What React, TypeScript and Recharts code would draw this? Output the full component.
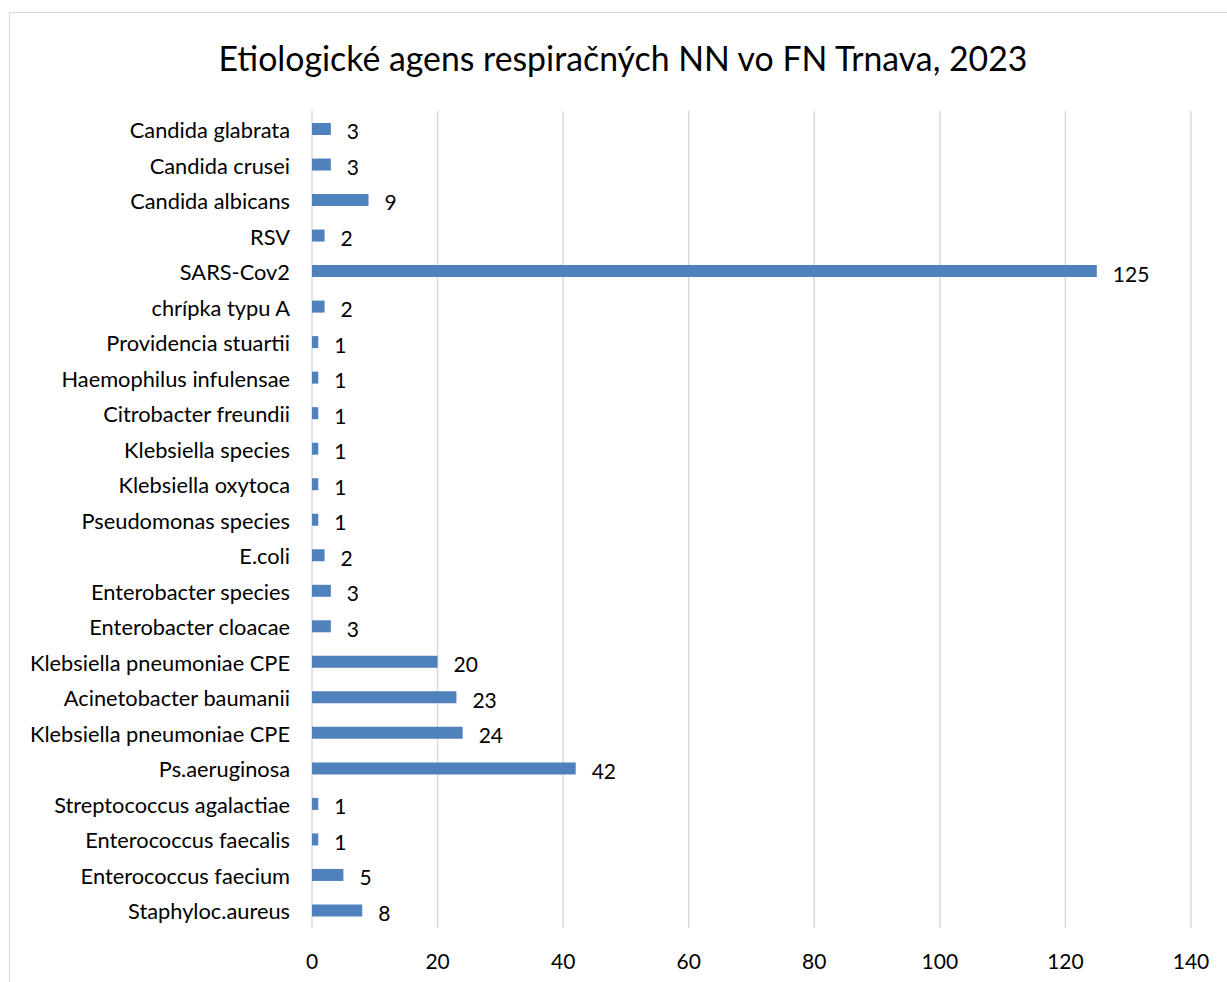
import { BarChart, Bar, XAxis, YAxis, CartesianGrid, LabelList } from 'recharts';

const categories = [
  'Candida glabrata',
  'Candida crusei',
  'Candida albicans',
  'RSV',
  'SARS-Cov2',
  'chrípka typu A',
  'Providencia stuartii',
  'Haemophilus infulensae',
  'Citrobacter freundii',
  'Klebsiella species',
  'Klebsiella oxytoca',
  'Pseudomonas species',
  'E.coli',
  'Enterobacter species',
  'Enterobacter cloacae',
  'Klebsiella pneumoniae CPE',
  'Acinetobacter baumanii',
  'Klebsiella pneumoniae CPE',
  'Ps.aeruginosa',
  'Streptococcus agalactiae',
  'Enterococcus faecalis',
  'Enterococcus faecium',
  'Staphyloc.aureus',
];

const counts = [3, 3, 9, 2, 125, 2, 1, 1, 1, 1, 1, 1, 2, 3, 3, 20, 23, 24, 42, 1, 1, 5, 8];

const xTicks = [0, 20, 40, 60, 80, 100, 120, 140];

const title = 'Etiologické agens respiračných NN vo FN Trnava, 2023';

const font = 'Lato, "Open Sans", sans-serif';

export default function App() {
  // index key, since two categories share the same name
  const chartData = categories.map((name, i) => ({ id: i, name, value: counts[i] }));

  return (
    <div style={{ position: 'absolute', left: 0, top: 0, width: 1227, height: 982, overflow: 'hidden', background: '#fff', fontFamily: font }}>
      <div
        style={{
          position: 'absolute',
          left: 9,
          top: 12,
          width: 1400,
          height: 1200,
          borderTop: '1.5px solid #d9d9d9',
          borderLeft: '1.5px solid #d9d9d9',
        }}
      />
      <div
        style={{
          position: 'absolute',
          left: 0,
          width: 1246,
          top: 38,
          textAlign: 'center',
          fontSize: 33.8,
          color: '#000',
        }}
      >
        {title}
      </div>
      <div style={{ position: 'absolute', left: 0, top: 0 }}>
        <BarChart
          width={1227}
          height={982}
          data={chartData}
          layout="vertical"
          margin={{ top: 111, right: 36, left: 0, bottom: 0 }}
          barCategoryGap={0}
        >
          <CartesianGrid horizontal={false} stroke="#d9d9d9" strokeWidth={1.5} />
          <XAxis
            type="number"
            domain={[0, 140]}
            ticks={xTicks}
            axisLine={false}
            tickLine={false}
            tickSize={0}
            tickMargin={26}
            height={54}
            tick={{ fill: '#000', fontSize: 21, fontFamily: font }}
          />
          <YAxis
            type="category"
            dataKey="id"
            width={312}
            axisLine={false}
            tickLine={false}
            tickSize={0}
            tickMargin={22}
            interval={0}
            tickFormatter={(i: number) => categories[i]}
            tick={{ fill: '#000', fontSize: 21.8, fontFamily: font, dy: 1.5 }}
          />
          <Bar dataKey="value" fill="#4f81bd" barSize={12} isAnimationActive={false}>
            <LabelList
              dataKey="value"
              position="right"
              offset={16}
              fill="#000"
              fontSize={21}
              fontFamily={font}
              dy={3}
            />
          </Bar>
        </BarChart>
      </div>
    </div>
  );
}
